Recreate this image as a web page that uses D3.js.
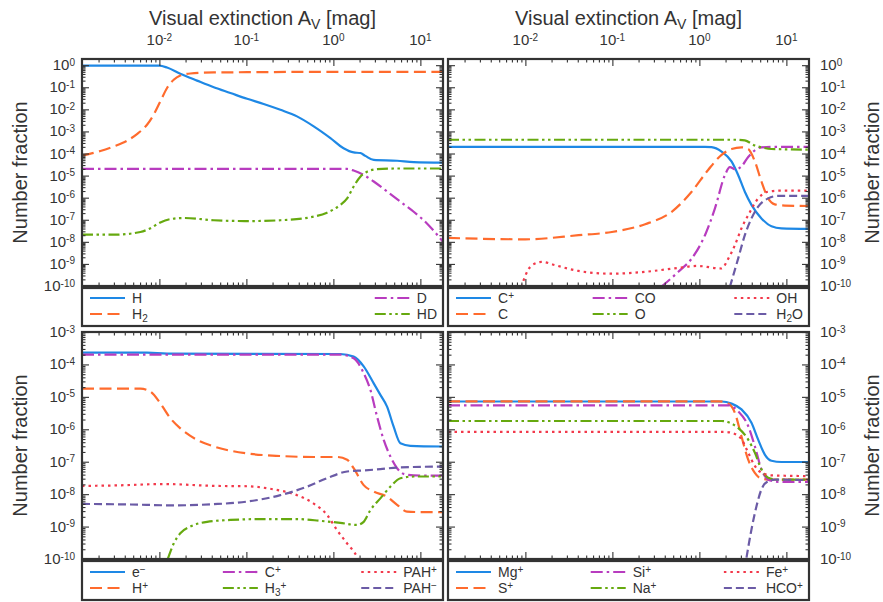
<!DOCTYPE html>
<html>
<head>
<meta charset="utf-8">
<script src="https://cdn.jsdelivr.net/npm/d3@7"></script>
<style>
  body { margin: 0; background: #fff; }
  svg { font-family: "Liberation Sans", Arial, sans-serif; }
</style>
</head>
<body>
<svg id="chart" width="883" height="602"></svg>
<script>
// x domain (visual extinction, mag) shared by all panels
const AV_DOMAIN = [1.29e-3, 18.2];

// ---- panel A: hydrogen / deuterium  ([Av, fraction])
const H = [[1.29e-3, 0.95], [0.0100, 0.95], [0.01225, 0.78], [0.0174, 0.41], [0.0271, 0.20], [0.0422, 0.10],
  [0.0655, 0.055], [0.102, 0.030], [0.158, 0.0174], [0.246, 9.5e-3], [0.382, 4.8e-3], [0.594, 1.7e-3],
  [0.925, 5.0e-4], [1.31, 1.74e-4], [1.71, 1.12e-4], [2.04, 1.05e-4], [2.33, 7.8e-5], [2.91, 5.1e-5],
  [5.40, 4.7e-5], [8.38, 4.1e-5], [18.2, 3.9e-5]];
const H2 = [[1.29e-3, 8.1e-5], [2.10e-3, 1.3e-4], [2.99e-3, 2.1e-4], [4.25e-3, 3.8e-4], [5.53e-3, 7.6e-4],
  [7.21e-3, 2.0e-3], [8.61e-3, 5.8e-3], [0.01026, 0.023], [0.01225, 0.093], [0.01462, 0.22], [0.0174, 0.34],
  [0.0227, 0.42], [0.0422, 0.47], [0.102, 0.48], [0.594, 0.5], [18.2, 0.5]];
const D = [[1.29e-3, 2.0e-5], [1.44, 2.0e-5], [1.71, 1.7e-5], [2.23, 1.07e-5], [2.91, 5.4e-6], [4.14, 1.9e-6],
  [5.89, 6.6e-7], [8.38, 2.3e-7], [11.9, 6.8e-8], [18.2, 1.0e-8]];
const HD = [[1.29e-3, 2.1e-8], [2.99e-3, 2.1e-8], [6.05e-3, 2.8e-8], [7.88e-3, 4.1e-8], [0.01026, 7.6e-8],
  [0.01337, 1.07e-7], [0.0191, 1.2e-7], [0.0422, 9.5e-8], [0.102, 8.7e-8], [0.246, 9.5e-8], [0.594, 1.38e-7],
  [0.845, 2.1e-7], [1.20, 4.7e-7], [1.44, 9.3e-7], [1.71, 3.2e-6], [2.04, 8.9e-6], [2.44, 1.5e-5],
  [3.18, 1.95e-5], [5.40, 2.1e-5], [18.2, 2.1e-5]];

// ---- panel B: carbon / oxygen
const Cp = [[1.29e-3, 2.0e-4], [1.16, 2.0e-4], [1.38, 1.95e-4], [1.80, 1.23e-4], [2.34, 4.4e-5], [2.79, 1.07e-5],
  [3.33, 1.86e-6], [3.97, 4.7e-7], [5.17, 1.15e-7], [6.74, 5.1e-8], [8.77, 4.1e-8], [18.2, 3.9e-8]];
const C = [[1.29e-3, 1.5e-8], [0.0100, 1.3e-8], [0.0409, 2.0e-8], [0.0986, 2.8e-8], [0.238, 6.3e-8],
  [0.481, 2.3e-7], [0.815, 1.86e-6], [1.26, 1.8e-5], [1.80, 8.7e-5], [2.34, 1.6e-4], [3.05, 1.9e-4],
  [3.64, 1.6e-4], [4.34, 4.4e-5], [5.17, 5.4e-6], [6.18, 9.3e-7], [7.36, 5.0e-7], [9.59, 4.4e-7], [18.2, 4.2e-7]];
const CO = [[0.363, 9e-11], [0.573, 4.4e-10], [0.815, 1.74e-9], [1.16, 2.0e-8], [1.51, 3.3e-7], [1.97, 1.07e-5],
  [2.24, 2.4e-5], [2.60, 1.9e-5], [3.05, 2.6e-5], [3.64, 7.0e-5], [4.34, 1.4e-4], [5.17, 1.9e-4],
  [6.74, 2.0e-4], [18.2, 2.0e-4]];
const O = [[1.29e-3, 4.2e-4], [2.60, 4.2e-4], [3.33, 3.9e-4], [4.34, 2.3e-4], [5.17, 1.9e-4], [6.74, 1.6e-4],
  [18.2, 1.5e-4]];
const OH = [[9.0e-3, 9e-11], [0.0100, 3.0e-10], [0.0119, 8.7e-10], [0.0155, 1.23e-9], [0.0221, 8.7e-10],
  [0.0409, 4.8e-10], [0.0986, 3.6e-10], [0.238, 4.4e-10], [0.573, 6.6e-10], [0.942, 8.1e-10], [1.80, 6.2e-10],
  [2.15, 1.74e-9], [2.56, 7.1e-9], [3.05, 4.1e-8], [3.64, 1.6e-7], [4.74, 9.3e-7], [6.18, 1.86e-6],
  [8.77, 2.1e-6], [18.2, 2.1e-6]];
const H2O = [[2.24, 9e-11], [2.79, 1.74e-9], [3.33, 2.0e-8], [3.97, 1.15e-7], [4.74, 3.9e-7], [6.18, 9.3e-7],
  [8.04, 1.2e-6], [18.2, 1.2e-6]];

// ---- panel C: charge carriers
const El = [[1.29e-3, 2.3e-4], [7.21e-3, 2.3e-4], [0.01225, 2.15e-4], [1.20, 2.1e-4], [1.71, 1.74e-4],
  [2.23, 8.7e-5], [2.91, 2.6e-5], [3.47, 1.15e-5], [4.14, 5.0e-6], [4.93, 1.2e-6], [5.89, 3.7e-7],
  [7.67, 3.1e-7], [18.2, 2.95e-7]];
const Hp = [[1.29e-3, 1.8e-5], [6.05e-3, 1.8e-5], [7.88e-3, 1.45e-5], [0.01026, 6.3e-6], [0.01337, 2.2e-6],
  [0.0174, 1.07e-6], [0.0271, 4.7e-7], [0.0422, 2.95e-7], [0.102, 1.8e-7], [0.246, 1.5e-7], [0.594, 1.4e-7],
  [1.10, 1.4e-7], [1.44, 1.15e-7], [1.71, 6.3e-8], [2.23, 1.9e-8], [2.91, 1.2e-8], [4.14, 8.3e-9],
  [5.40, 4.7e-9], [7.03, 2.9e-9], [10.0, 2.8e-9], [18.2, 2.8e-9]];
const CpIon = [[1.29e-3, 2.0e-4], [1.20, 2.0e-4], [1.71, 1.55e-4], [2.23, 5.4e-5], [2.66, 1.66e-5],
  [3.18, 2.45e-6], [3.79, 4.7e-7], [4.52, 1.45e-7], [5.40, 6.3e-8], [6.43, 4.2e-8], [8.38, 3.8e-8], [18.2, 3.7e-8]];
const H3p = [[0.01248, 1.0e-10], [0.01462, 3.0e-10], [0.0174, 6.2e-10], [0.0227, 1.0e-9], [0.0353, 1.4e-9],
  [0.0655, 1.6e-9], [0.158, 1.7e-9], [0.382, 1.7e-9], [0.710, 1.5e-9], [1.20, 1.3e-9], [1.87, 1.12e-9],
  [2.23, 1.4e-9], [2.66, 3.2e-9], [3.47, 7.4e-9], [4.52, 1.7e-8], [5.89, 3.1e-8], [8.38, 3.5e-8], [18.2, 3.5e-8]];
const PAHp = [[1.29e-3, 1.8e-8], [2.99e-3, 1.85e-8], [0.0112, 2.05e-8], [0.0422, 1.8e-8], [0.102, 1.75e-8],
  [0.206, 1.4e-8], [0.382, 9.3e-9], [0.594, 5.1e-9], [0.845, 2.3e-9], [1.10, 7.8e-10], [1.44, 3.0e-10],
  [1.87, 1.17e-10], [2.04, 7e-11]];
const PAHm = [[1.29e-3, 5.0e-9], [4.65e-3, 4.8e-9], [0.01462, 4.5e-9], [0.0422, 4.9e-9], [0.102, 5.9e-9],
  [0.246, 9.3e-9], [0.498, 1.7e-8], [0.845, 3.1e-8], [1.44, 5.0e-8], [2.23, 5.4e-8], [3.47, 5.9e-8],
  [5.40, 6.6e-8], [18.2, 7.1e-8]];

// ---- panel D: metal ions
const Mgp = [[1.29e-3, 7.2e-6], [1.80, 7.2e-6], [2.34, 6.2e-6], [3.05, 4.1e-6], [3.97, 1.6e-6], [4.74, 4.8e-7],
  [5.65, 1.66e-7], [6.74, 1.07e-7], [8.77, 9.8e-8], [18.2, 9.8e-8]];
const Sp = [[1.29e-3, 7.3e-6], [1.65, 7.3e-6], [2.15, 6.2e-6], [2.56, 3.2e-6], [3.05, 6.0e-7], [3.64, 1.15e-7],
  [4.34, 4.5e-8], [5.17, 3.0e-8], [6.74, 2.8e-8], [18.2, 2.8e-8]];
const Sip = [[1.29e-3, 5.5e-6], [2.15, 5.5e-6], [2.79, 3.6e-6], [3.64, 1.26e-6], [4.34, 3.0e-7], [5.17, 5.8e-8],
  [6.18, 2.8e-8], [8.04, 2.4e-8], [18.2, 2.4e-8]];
const Nap = [[1.29e-3, 1.8e-6], [1.80, 1.8e-6], [2.34, 1.5e-6], [2.79, 1.1e-6], [3.64, 4.8e-7], [4.34, 1.9e-7],
  [5.17, 5.8e-8], [6.18, 3.2e-8], [8.04, 2.8e-8], [18.2, 2.8e-8]];
const Fep = [[1.29e-3, 8.3e-7], [1.97, 8.3e-7], [2.56, 7.2e-7], [3.05, 4.9e-7], [3.64, 1.9e-7], [4.34, 7.4e-8],
  [5.17, 4.6e-8], [6.74, 3.8e-8], [18.2, 3.6e-8]];
const HCOp = [[3.48, 1.1e-10], [3.97, 8.1e-10], [4.54, 4.3e-9], [5.17, 1.4e-8], [6.18, 2.5e-8], [7.36, 2.8e-8],
  [18.2, 2.7e-8]];

const labelsA = ['H', 'H_2', 'D', 'HD'];
const labelsB = ['C^+', 'C', 'CO', 'O', 'OH', 'H_2O'];
const labelsC = ['e^−', 'H^+', 'C^+', 'H_3^+', 'PAH^+', 'PAH^−'];
const labelsD = ['Mg^+', 'S^+', 'Si^+', 'Na^+', 'Fe^+', 'HCO^+'];

const xTickExps = [-2, -1, 0, 1];

// line styles, used in legend order
const STYLES = [
  { color: '#1e88e5', dash: null },
  { color: '#ff6b2d', dash: '12,5.5' },
  { color: '#b83cbf', dash: '12,4,2.5,4' },
  { color: '#66a90f', dash: '11,3.5,2.5,3.5,2.5,3.5' },
  { color: '#f2394b', dash: '2.5,4' },
  { color: '#6b5ba6', dash: '8,4' },
];

const INK = '#333';
const svg = d3.select('#chart');

const panels = [
  { x: 82, y: 59, w: 361, h: 227, yTop: 10 ** 0.28, side: 'left', title: true, ncol: 2,
    legendY: 288, legendH: 38, series: [H, H2, D, HD], labels: labelsA },
  { x: 448, y: 59, w: 361, h: 227, yTop: 10 ** 0.28, side: 'right', title: true, ncol: 3,
    legendY: 288, legendH: 38, series: [Cp, C, CO, O, OH, H2O], labels: labelsB },
  { x: 82, y: 332, w: 361, h: 227, yTop: 1e-3, side: 'left', title: false, ncol: 3,
    legendY: 561, legendH: 39, series: [El, Hp, CpIon, H3p, PAHp, PAHm], labels: labelsC },
  { x: 448, y: 332, w: 361, h: 227, yTop: 1e-3, side: 'right', title: false, ncol: 3,
    legendY: 561, legendH: 39, series: [Mgp, Sp, Sip, Nap, Fep, HCOp], labels: labelsD },
];

// writes "H_2", "C^+", "10^{-3}" as text with sub/superscript tspans
function richText(sel, label, size, supRise = 0.34) {
  const small = Math.round(size * 0.68);
  let offset = 0;
  let i = 0;
  while (i < label.length) {
    let mode = 'n';
    let chunk = '';
    if (label[i] === '^' || label[i] === '_') {
      mode = label[i];
      i++;
      if (label[i] === '{') {
        i++;
        while (i < label.length && label[i] !== '}') chunk += label[i++];
        i++;
      } else {
        chunk = label[i++];
      }
    } else {
      while (i < label.length && label[i] !== '^' && label[i] !== '_') chunk += label[i++];
    }
    const target = mode === '^' ? -size * supRise : mode === '_' ? size * 0.2 : 0;
    sel.append('tspan')
      .attr('dy', target - offset)
      .style('font-size', mode === 'n' ? null : small + 'px')
      .text(chunk);
    offset = target;
  }
}

function logTicks(lo, hi) {
  const major = [];
  const minor = [];
  for (let k = Math.floor(Math.log10(lo)) - 1; k <= Math.ceil(Math.log10(hi)); k++) {
    for (let m = 1; m <= 9; m++) {
      const v = m * 10 ** k;
      if (v < lo * 0.999 || v > hi * 1.001) continue;
      (m === 1 ? major : minor).push(v);
    }
  }
  return { major, minor };
}

function drawPanel(p, idx) {
  const x = d3.scaleLog().domain(AV_DOMAIN).range([p.x, p.x + p.w]);
  const y = d3.scaleLog().domain([1e-10, p.yTop]).range([p.y + p.h, p.y]);

  const clipId = `clip-${idx}`;
  svg.append('clipPath').attr('id', clipId)
    .append('rect').attr('x', p.x).attr('y', p.y).attr('width', p.w).attr('height', p.h);

  const line = d3.line()
    .x((d) => x(d[0]))
    .y((d) => y(d[1]))
    .curve(d3.curveMonotoneX);

  const lg = svg.append('g').attr('clip-path', `url(#${clipId})`);
  p.series.forEach((s, i) => {
    lg.append('path')
      .datum(s)
      .attr('d', line)
      .attr('fill', 'none')
      .attr('stroke', STYLES[i].color)
      .attr('stroke-width', 2.2)
      .attr('stroke-dasharray', STYLES[i].dash);
  });

  // inward ticks on all four sides
  const xt = logTicks(AV_DOMAIN[0], AV_DOMAIN[1]);
  const yt = logTicks(1e-10, p.yTop);
  const axes = [
    [d3.axisBottom(x), `translate(0,${p.y + p.h})`, xt],
    [d3.axisTop(x), `translate(0,${p.y})`, xt],
    [d3.axisLeft(y), `translate(${p.x},0)`, yt],
    [d3.axisRight(y), `translate(${p.x + p.w},0)`, yt],
  ];
  axes.forEach(([axis, tr, t]) => {
    [[t.major, 7], [t.minor, 3.5]].forEach(([vals, len]) => {
      const g = svg.append('g')
        .attr('transform', tr)
        .call(axis.tickValues(vals).tickSize(-len).tickFormat(''));
      g.select('.domain').remove();
      g.selectAll('text').remove();
      g.selectAll('line').attr('stroke', INK).attr('stroke-width', 1.1);
    });
  });

  svg.append('rect')
    .attr('x', p.x).attr('y', p.y).attr('width', p.w).attr('height', p.h)
    .attr('fill', 'none').attr('stroke', INK).attr('stroke-width', 2.2);

  // y tick labels
  const yLab = svg.append('g').attr('fill', INK).style('font-size', '15px');
  yt.major.forEach((v) => {
    const t = yLab.append('text')
      .attr('x', p.side === 'left' ? p.x - 7 : p.x + p.w + 11)
      .attr('y', y(v) + 5)
      .attr('text-anchor', p.side === 'left' ? 'end' : 'start');
    richText(t, `10^{${Math.round(Math.log10(v))}}`, 15, 0.3);
  });

  // y title
  const yc = p.y + p.h / 2;
  const yx = p.side === 'left' ? 27 : 879;
  svg.append('text')
    .attr('transform', `translate(${yx},${yc}) rotate(-90)`)
    .attr('text-anchor', 'middle')
    .attr('fill', INK)
    .style('font-size', '20px')
    .text('Number fraction');

  if (p.title) {
    const xLab = svg.append('g').attr('fill', INK).style('font-size', '15px');
    xTickExps.forEach((e) => {
      const t = xLab.append('text')
        .attr('x', x(10 ** e))
        .attr('y', 45)
        .attr('text-anchor', 'middle');
      richText(t, `10^{${e}}`, 15, 0.3);
    });
    const tt = svg.append('text')
      .attr('x', p.x + p.w / 2)
      .attr('y', 25)
      .attr('text-anchor', 'middle')
      .attr('fill', INK)
      .style('font-size', '20px');
    richText(tt, 'Visual extinction A_V [mag]', 20);
  }

  drawLegend(p);
}

function drawLegend(p) {
  const HANDLE = 35;
  const rowY = [10, 26];
  const lg = svg.append('g');
  lg.append('rect')
    .attr('x', p.x).attr('y', p.legendY).attr('width', p.w).attr('height', p.legendH)
    .attr('fill', 'none').attr('stroke', INK).attr('stroke-width', 2.2);

  const cols = d3.range(p.ncol).map((c) => d3.range(c * 2, c * 2 + 2));
  const groups = cols.map((col) => {
    const cg = lg.append('g');
    col.forEach((i, r) => {
      const cy = p.legendY + rowY[r] + (p.legendH > 38 ? 1 : 0);
      cg.append('line')
        .attr('x1', 0).attr('x2', HANDLE).attr('y1', cy).attr('y2', cy)
        .attr('stroke', STYLES[i].color)
        .attr('stroke-width', 2.2)
        .attr('stroke-dasharray', STYLES[i].dash);
      const t = cg.append('text')
        .attr('x', HANDLE + 7)
        .attr('y', cy + 5)
        .attr('fill', INK)
        .style('font-size', '14px');
      richText(t, p.labels[i], 14, 0.3);
    });
    return cg;
  });

  const widths = groups.map((g) => g.node().getBBox().width);
  const inner = p.w - 8 - 6;
  const gap = (inner - d3.sum(widths)) / (p.ncol - 1);
  let xPos = p.x + 8;
  groups.forEach((g, i) => {
    g.attr('transform', `translate(${xPos},0)`);
    xPos += widths[i] + gap;
  });
}

panels.forEach(drawPanel);
</script>
</body>
</html>
